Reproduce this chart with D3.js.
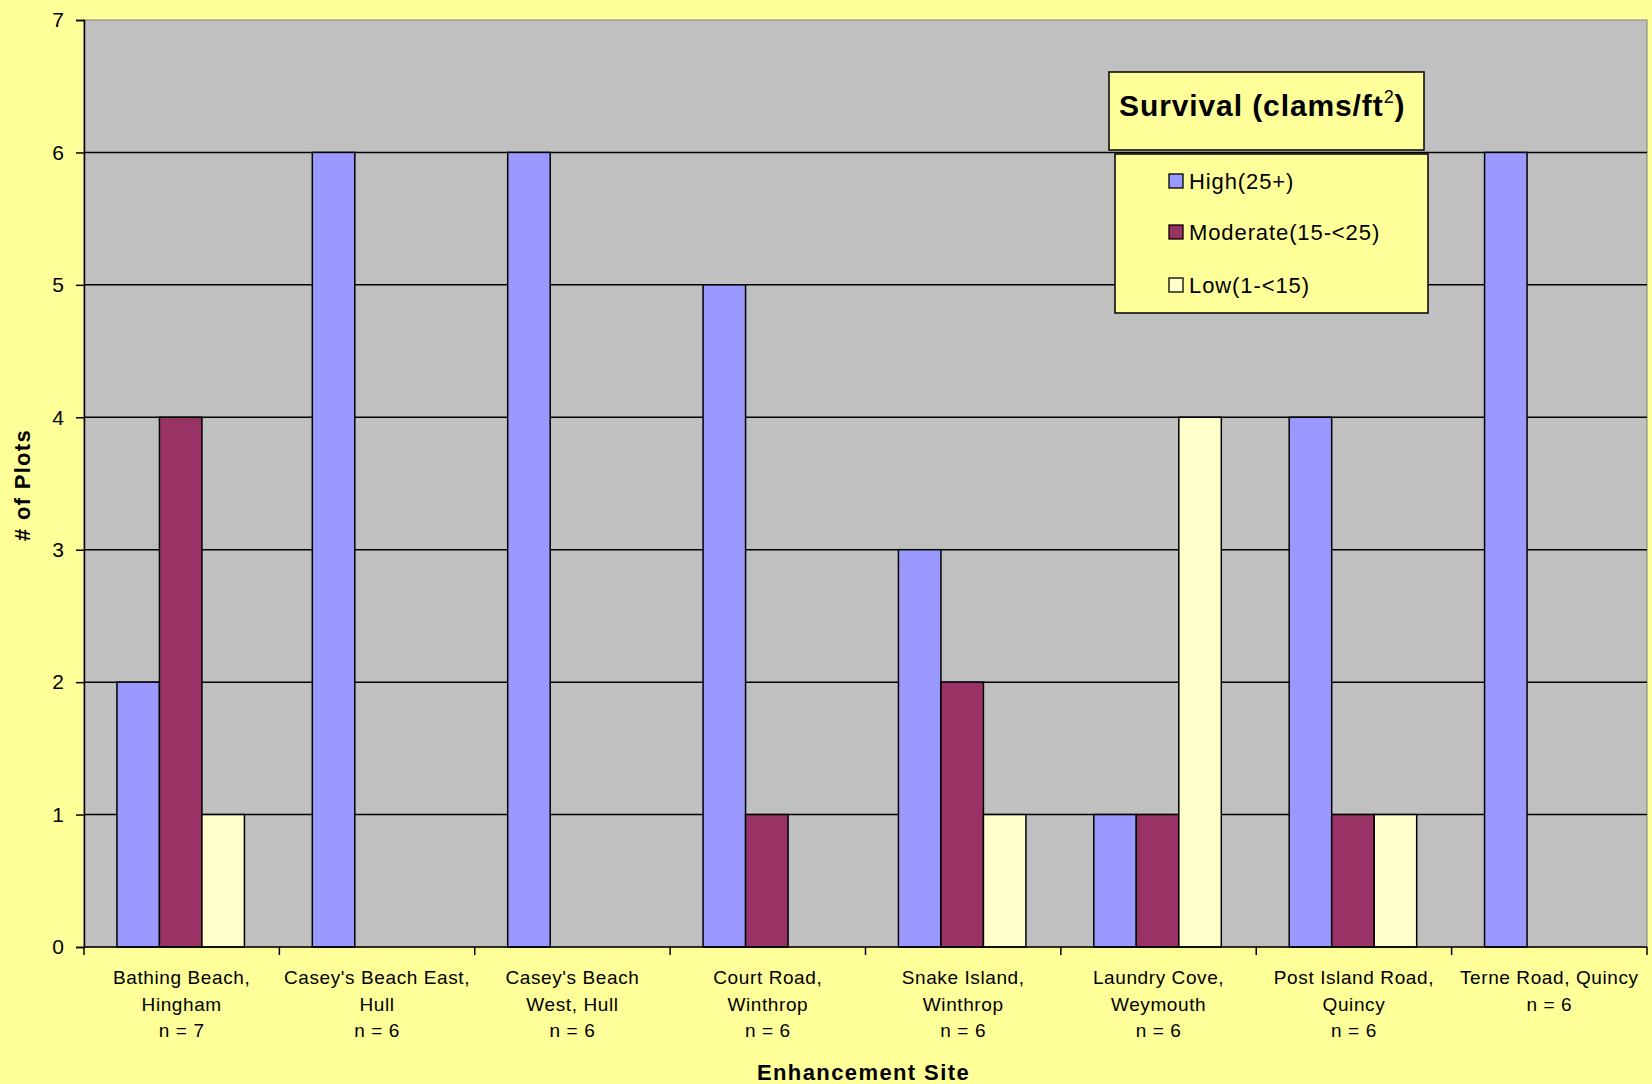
<!DOCTYPE html>
<html>
<head>
<meta charset="utf-8">
<script src="https://cdn.jsdelivr.net/npm/d3@7"></script>
<style>
  body { margin:0; background:#FFFF99; }
  svg { display:block; font-family:"Liberation Sans", Arial, sans-serif; }
</style>
</head>
<body>
<svg></svg>
<script>
var w = 1652, h = 1084;

// chart data
var sites = [
  ["Bathing Beach,", "Hingham", "n = 7"],
  ["Casey's Beach East,", "Hull", "n = 6"],
  ["Casey's Beach", "West, Hull", "n = 6"],
  ["Court Road,", "Winthrop", "n = 6"],
  ["Snake Island,", "Winthrop", "n = 6"],
  ["Laundry Cove,", "Weymouth", "n = 6"],
  ["Post Island Road,", "Quincy", "n = 6"],
  ["Terne Road, Quincy", "n = 6"]
];
var seriesNames = ["High(25+)", "Moderate(15-<25)", "Low(1-<15)"];
var high     = [2, 6, 6, 5, 3, 1, 4, 6];
var moderate = [4, 0, 0, 1, 2, 1, 1, 0];
var low      = [1, 0, 0, 0, 1, 4, 1, 0];
var yTicks   = [0, 1, 2, 3, 4, 5, 6, 7];

var colors = ["#9999FF", "#993366", "#FFFFCC"];
var plot = {left: 84, right: 1647, top: 20, bottom: 947};

var svg = d3.select("svg").attr("width", w).attr("height", h);
svg.append("rect").attr("width", w).attr("height", h).attr("fill", "#FFFF99");

var keys = sites.map(function(d, i){ return "s" + i; });
var x0 = d3.scaleBand().domain(keys).range([plot.left, plot.right]).padding(0);
var bw = x0.bandwidth();
var grp = 0.6525;
var x1 = d3.scaleBand().domain(seriesNames)
  .range([bw*(1-grp)/2 - 1, bw*(1+grp)/2 - 1]).padding(0);
var y = d3.scaleLinear().domain([0, 7]).range([plot.bottom, plot.top]);

// plot area
svg.append("rect")
  .attr("x", plot.left).attr("y", plot.top)
  .attr("width", plot.right - plot.left).attr("height", plot.bottom - plot.top)
  .attr("fill", "#C0C0C0").attr("stroke", "#808080").attr("stroke-width", 1);

// gridlines
svg.append("g").selectAll("line")
  .data(yTicks.filter(function(t){ return t > 0 && t < 7; }))
  .enter().append("line")
  .attr("x1", plot.left).attr("x2", plot.right)
  .attr("y1", function(d){ return y(d); }).attr("y2", function(d){ return y(d); })
  .attr("stroke", "#000").attr("stroke-width", 1.5);

// bars
var table = sites.map(function(s, i){
  return {key: keys[i], vals: [high[i], moderate[i], low[i]]};
});
var groups = svg.append("g").selectAll("g")
  .data(table).enter().append("g")
  .attr("transform", function(d){ return "translate(" + x0(d.key) + ",0)"; });
groups.selectAll("rect")
  .data(function(d){ return d.vals.map(function(v, j){ return {name: seriesNames[j], v: v, j: j}; }); })
  .enter().filter(function(d){ return d.v > 0; }).append("rect")
  .attr("x", function(d){ return x1(d.name); })
  .attr("y", function(d){ return y(d.v); })
  .attr("width", x1.bandwidth())
  .attr("height", function(d){ return y(0) - y(d.v); })
  .attr("fill", function(d){ return colors[d.j]; })
  .attr("stroke", "#000").attr("stroke-width", 1.5);

// y axis
var yAxis = d3.axisLeft(y).tickValues(yTicks).tickSize(8).tickPadding(12).tickFormat(d3.format("d"));
var ya = svg.append("g").attr("transform", "translate(" + plot.left + ",0)").call(yAxis);
ya.select(".domain").attr("stroke", "#000").attr("stroke-width", 1.5);
ya.selectAll(".tick line").attr("stroke", "#000").attr("stroke-width", 1.5);
ya.selectAll("text").attr("font-size", "21px").attr("fill", "#000")
  .attr("font-family", "'Liberation Sans', Arial, sans-serif");

// x axis (ticks at category boundaries)
var xa = svg.append("g").attr("transform", "translate(0," + plot.bottom + ")");
xa.append("line").attr("x1", plot.left).attr("x2", plot.right)
  .attr("stroke", "#000").attr("stroke-width", 1.5);
xa.selectAll("line.tk").data(keys.concat(["end"])).enter().append("line")
  .attr("class", "tk")
  .attr("x1", function(d){ return d == "end" ? plot.right : x0(d); })
  .attr("x2", function(d){ return d == "end" ? plot.right : x0(d); })
  .attr("y1", 0).attr("y2", 8)
  .attr("stroke", "#000").attr("stroke-width", 1.5);

var labels = svg.append("g").selectAll("text")
  .data(sites).enter().append("text")
  .attr("text-anchor", "middle")
  .attr("font-size", "19px").attr("letter-spacing", "0.6px").attr("fill", "#000")
  .attr("transform", function(d, i){ return "translate(" + (x0(keys[i]) + bw/2) + ",984)"; });
labels.selectAll("tspan").data(function(d){ return d; }).enter().append("tspan")
  .attr("x", 0).attr("y", function(d, i){ return i*26.5; })
  .text(function(d){ return d; });

// axis titles
svg.append("text").attr("x", (plot.left + plot.right)/2 - 2).attr("y", 1080)
  .attr("text-anchor", "middle").attr("font-size", "22px").attr("font-weight", "bold")
  .attr("letter-spacing", "1.4px")
  .text("Enhancement Site");
svg.append("text").attr("transform", "translate(30,485) rotate(-90)")
  .attr("text-anchor", "middle").attr("font-size", "22px").attr("font-weight", "bold")
  .attr("letter-spacing", "1.3px")
  .text("# of Plots");

// legend
var lg = svg.append("g");
lg.append("rect").attr("x", 1109).attr("y", 72).attr("width", 315).attr("height", 78)
  .attr("fill", "#FFFF99").attr("stroke", "#000").attr("stroke-width", 1.5);
var lt = lg.append("text").attr("x", 1119).attr("y", 116)
  .attr("font-size", "30px").attr("font-weight", "bold").attr("fill", "#000")
  .attr("letter-spacing", "0.9px");
lt.append("tspan").text("Survival (clams/ft");
lt.append("tspan").attr("font-size", "18px").attr("font-weight", "normal").attr("dy", -13).text("2");
lt.append("tspan").attr("dy", 13).text(")");

lg.append("rect").attr("x", 1115).attr("y", 154).attr("width", 313).attr("height", 159)
  .attr("fill", "#FFFF99").attr("stroke", "#000").attr("stroke-width", 1.5);
var items = lg.selectAll("g.item").data(seriesNames).enter().append("g")
  .attr("class", "item")
  .attr("transform", function(d, i){ return "translate(1169," + [181, 232, 285][i] + ")"; });
items.append("rect").attr("x", 0).attr("y", -7).attr("width", 14).attr("height", 14)
  .attr("fill", function(d, i){ return colors[i]; })
  .attr("stroke", "#000").attr("stroke-width", 1.3);
items.append("text").attr("x", 20).attr("y", 8)
  .attr("font-size", "22px").attr("letter-spacing", "0.9px").attr("fill", "#000")
  .text(function(d){ return d; });
</script>
</body>
</html>
